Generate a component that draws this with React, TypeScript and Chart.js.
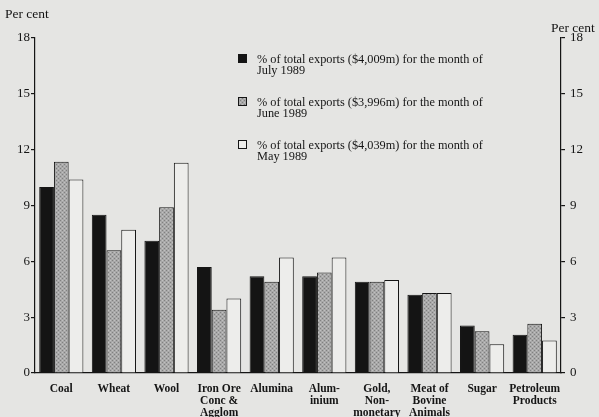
import React, { useEffect, useRef } from "react";
import { Chart, registerables } from "chart.js";

Chart.register(...registerables);

const categories: string[][] = [
  ["Coal"],
  ["Wheat"],
  ["Wool"],
  ["Iron Ore", "Conc &", "Agglom"],
  ["Alumina"],
  ["Alum-", "inium"],
  ["Gold,", "Non-", "monetary"],
  ["Meat of", "Bovine", "Animals"],
  ["Sugar"],
  ["Petroleum", "Products"],
];

const july1989 = [10.0, 8.5, 7.1, 5.7, 5.2, 5.2, 4.9, 4.2, 2.55, 2.05];
const june1989 = [11.35, 6.6, 8.9, 3.4, 4.9, 5.4, 4.9, 4.3, 2.25, 2.65];
const may1989 = [10.4, 7.7, 11.3, 4.0, 6.2, 6.2, 5.0, 4.3, 1.55, 1.75];

const seriesLabels: string[][] = [
  ["% of total exports ($4,009m) for the month of", "July 1989"],
  ["% of total exports ($3,996m) for the month of", "June 1989"],
  ["% of total exports ($4,039m) for the month of", "May 1989"],
];

const yTicks = [0, 3, 6, 9, 12, 15, 18];

const BG = "#e5e5e3";
const INK = "#151515";
const SERIF = "'Liberation Serif', 'DejaVu Serif', serif";

function makeStipple(): CanvasPattern | string {
  const c = document.createElement("canvas");
  c.width = 4;
  c.height = 4;
  const g = c.getContext("2d");
  if (!g) return "#a0a0a0";
  g.fillStyle = "#a8a8a8";
  g.fillRect(0, 0, 4, 4);
  g.fillStyle = "#808080";
  g.fillRect(0, 0, 1, 1);
  g.fillRect(2, 2, 1, 1);
  g.fillStyle = "#c0c0c0";
  g.fillRect(2, 0, 1, 1);
  g.fillRect(0, 2, 1, 1);
  const p = g.createPattern(c, "repeat");
  return p || "#a0a0a0";
}

export default function App() {
  const ref = useRef<HTMLCanvasElement | null>(null);

  useEffect(() => {
    if (!ref.current) return;
    const stipple = makeStipple();
    const fills: (string | CanvasPattern)[] = ["#141414", stipple, "#ededeb"];

    const overlay = {
      id: "overlay",
      beforeDraw(chart: any) {
        const { ctx } = chart;
        ctx.save();
        ctx.fillStyle = BG;
        ctx.fillRect(0, 0, chart.width, chart.height);
        ctx.restore();
      },
      afterDraw(chart: any) {
        const { ctx } = chart;
        ctx.save();
        ctx.fillStyle = INK;
        ctx.font = `13.5px ${SERIF}`;
        ctx.textBaseline = "middle";
        ctx.textAlign = "left";
        ctx.fillText("Per cent", 5, 14);
        ctx.fillText("Per cent", 551, 28);

        const boxX = 238;
        const startY = 54;
        const gap = 43;
        seriesLabels.forEach((lines, i) => {
          const y = startY + i * gap;
          ctx.fillStyle = fills[i] as any;
          ctx.fillRect(boxX, y, 9, 9);
          ctx.strokeStyle = INK;
          ctx.lineWidth = 1;
          ctx.strokeRect(boxX + 0.5, y + 0.5, 8, 8);
          ctx.fillStyle = INK;
          ctx.font = `12.3px ${SERIF}`;
          ctx.fillText(lines[0], 257, y + 6);
          ctx.fillText(lines[1], 257, y + 17);
        });
        ctx.restore();
      },
    };

    const chart = new Chart(ref.current, {
      type: "bar",
      data: {
        labels: categories,
        datasets: [
          { label: seriesLabels[0].join(" "), data: july1989, backgroundColor: fills[0] as any, yAxisID: "y" },
          { label: seriesLabels[1].join(" "), data: june1989, backgroundColor: fills[1] as any, yAxisID: "y" },
          { label: seriesLabels[2].join(" "), data: may1989, backgroundColor: fills[2] as any, yAxisID: "y" },
        ].map((d) => ({
          ...d,
          borderColor: INK,
          borderWidth: 1,
          categoryPercentage: 0.84,
          barPercentage: 1.0,
        })),
      },
      options: {
        animation: false,
        responsive: false,
        maintainAspectRatio: false,
        layout: { padding: { top: 38, left: 0, right: 0, bottom: 0 } },
        plugins: {
          legend: { display: false },
          tooltip: { enabled: false },
        },
        scales: {
          x: {
            grid: { display: false },
            border: { display: true, color: INK, width: 1.2 },
            ticks: {
              color: INK,
              font: { family: SERIF, size: 11.5, weight: "bold", lineHeight: 1.05 },
              maxRotation: 0,
              autoSkip: false,
              padding: 2,
            },
            afterFit(scale: any) {
              scale.height = 44;
            },
          },
          y: {
            position: "left",
            min: 0,
            max: 18,
            afterBuildTicks(scale: any) {
              scale.ticks = yTicks.map((v) => ({ value: v }));
            },
            grid: { drawOnChartArea: false, drawTicks: true, tickLength: 4, color: INK, lineWidth: 1.2 },
            border: { display: true, color: INK, width: 1.2 },
            ticks: { color: INK, font: { family: SERIF, size: 13 }, padding: 1 },
            afterFit(scale: any) {
              scale.width = 35;
            },
          },
          y2: {
            position: "right",
            min: 0,
            max: 18,
            afterBuildTicks(scale: any) {
              scale.ticks = yTicks.map((v) => ({ value: v }));
            },
            grid: { drawOnChartArea: false, drawTicks: true, tickLength: 4, color: INK, lineWidth: 1.2 },
            border: { display: true, color: INK, width: 1.2 },
            ticks: { color: INK, font: { family: SERIF, size: 13 }, padding: 5 },
            afterFit(scale: any) {
              scale.width = 38;
            },
          },
        },
      } as any,
      plugins: [overlay],
    });
    return () => chart.destroy();
  }, []);

  return (
    <div style={{ position: "fixed", left: 0, top: 0, width: 599, height: 417, background: BG }}>
      <canvas ref={ref} width={599} height={417} style={{ width: 599, height: 417, display: "block" }} />
    </div>
  );
}
